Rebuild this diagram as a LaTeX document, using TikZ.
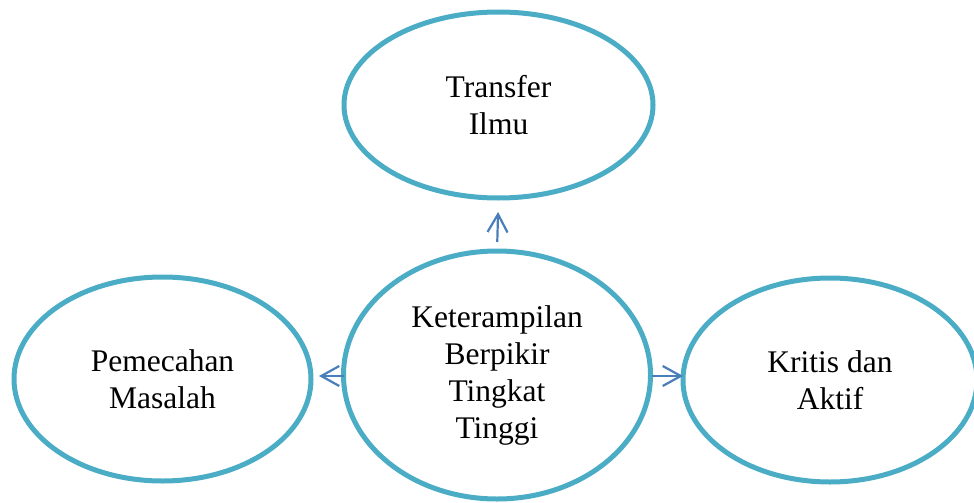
\documentclass[tikz,border=0pt]{standalone}
\usepackage{fontspec}
\setmainfont{Liberation Serif}
\usetikzlibrary{shapes.geometric,arrows.meta}
\definecolor{ringc}{HTML}{4BACC6}
\definecolor{arrc}{HTML}{4A7EBB}
\begin{document}
\begin{tikzpicture}[x=1pt,y=-1pt,
  bubble/.style={ellipse,draw=ringc,line width=5pt,inner sep=0pt,outer sep=0pt,align=center,
    font=\fontsize{31.5}{37}\selectfont},
  conn/.style={draw=arrc,line width=2.2pt,-{Straight Barb[length=18pt,width=20pt,line width=2.2pt]}}]
\useasboundingbox (0,0) rectangle (974,503);
\node[bubble,minimum width=309pt,minimum height=186pt] (t) at (498.5,105) {Transfer\\Ilmu};
\node[bubble,minimum width=307pt,minimum height=248pt] (c) at (497,375) {Keterampilan\\Berpikir\\Tingkat\\Tinggi};
\node[bubble,minimum width=297pt,minimum height=204pt] (l) at (162.5,379) {Pemecahan\\Masalah};
\node[bubble,minimum width=294pt,minimum height=204pt] (r) at (830,380) {Kritis dan\\Aktif};
\draw[conn,shorten <=9pt,shorten >=14pt] (c.north) -- (t.south);
\draw[conn,shorten <=0pt,shorten >=8pt] (c.west |- 0,376) -- (l.east |- 0,376);
\draw[conn,shorten <=1.5pt,shorten >=0pt] (c.east |- 0,376) -- (r.west |- 0,376);
\end{tikzpicture}
\end{document}
